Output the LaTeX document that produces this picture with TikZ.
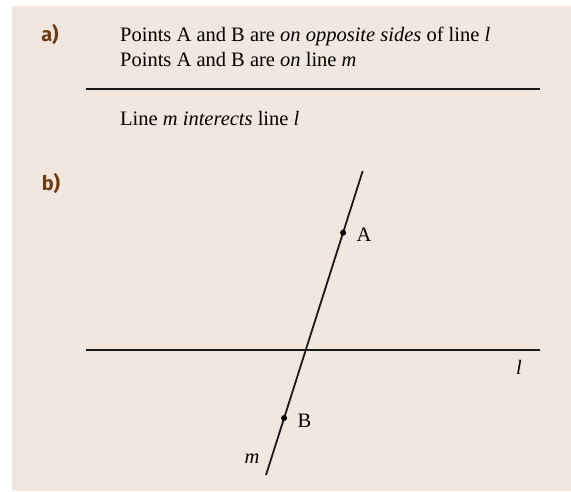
\documentclass[tikz,border=0pt]{standalone}
\usepackage{fontspec}
\setmainfont{Liberation Serif}
\newfontfamily\partfont{Fira Sans}
\usetikzlibrary{positioning, calc}
\definecolor{panelbg}{RGB}{242,231,222}
\definecolor{partbrown}{RGB}{110,60,15}

\begin{document}
\begin{tikzpicture}[x=1pt, y=-1pt,
    every node/.style={font=\fontsize{20.5}{25}\selectfont, inner sep=0pt},
    partlabel/.style={font=\partfont\bfseries\fontsize{20}{24}\selectfont, text=partbrown},
    stmt/.style={anchor=base west},
    ptlabel/.style={anchor=base},
    geoline/.style={line width=1.8pt, black!90},
    pt/.style={circle, fill=black, minimum size=6pt, inner sep=0pt}]
    \useasboundingbox (0,0) rectangle (571,491);
    % Background
    \fill[panelbg] (12,6) rectangle (571,491);

    % Part a
    \node[partlabel] (parta) at (50,34.5) {a)};
    \node[stmt] (prem1) at (120,41) {Points A and B are \textit{on opposite sides} of line \textit{l}};
    \node[stmt] (prem2) at (120,66) {Points A and B are \textit{on} line \textit{m}};
    \coordinate (r1) at (86,89);
    \coordinate (r2) at (540,89);
    \draw[geoline] (r1) -- (r2);
    \node[stmt] (concl) at (120,125) {Line \textit{m interects} line \textit{l}};

    % Part b
    \node[partlabel] (partb) at (51,183.5) {b)};
    \coordinate (l1) at (86,350);
    \coordinate (l2) at (540,350);
    \coordinate (m1) at (362.7,171);
    \coordinate (m2) at (266,475);
    \draw[geoline] (l1) -- (l2);
    \draw[geoline] (m1) -- (m2);
    \node[pt] (A) at (343.1,232.7) {};
    \node[pt] (B) at (284.1,418) {};
    \node[ptlabel] (labA) at (364,241) {A};
    \node[ptlabel] (labB) at (304.5,427) {B};
    \node[ptlabel] (labm) at (252,463) {\textit{m}};
    \node[ptlabel] (labl) at (519,374) {\textit{l}};
\end{tikzpicture}
\end{document}
